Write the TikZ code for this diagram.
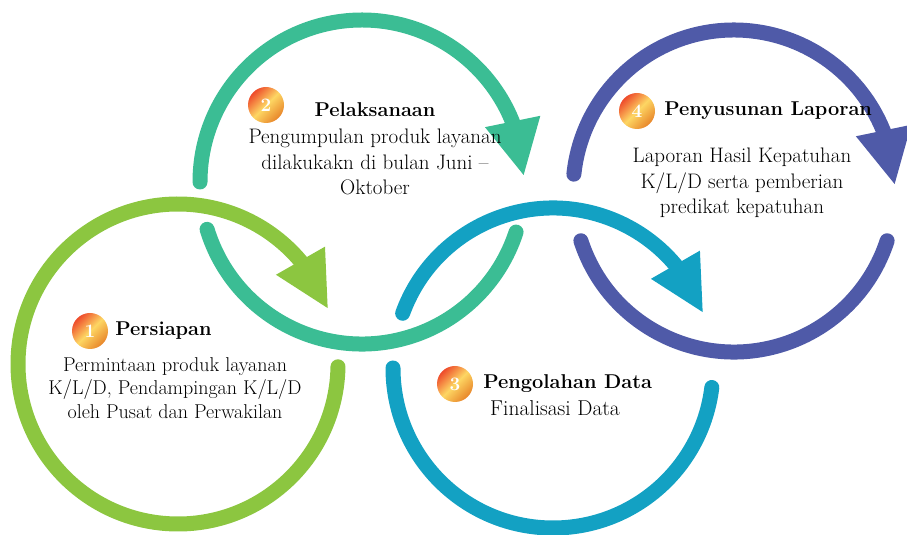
\documentclass[tikz,border=0pt]{standalone}
\usepackage{fontspec}
\usepackage{tikz}
\usetikzlibrary{arrows.meta, bending, positioning}
\definecolor{ringgreen}{HTML}{8CC640}
\definecolor{ringteal}{HTML}{3BBD94}
\definecolor{ringblue}{HTML}{13A1C3}
\definecolor{ringpurple}{HTML}{4F5AA8}
\definecolor{badgered}{HTML}{EE4B2B}
\definecolor{badgeyellow}{HTML}{FDD663}
\definecolor{badgeorange}{HTML}{E8862A}

\begin{document}
\begin{tikzpicture}[
    x=1pt, y=1pt,
    ring/.style={line width=15pt, line cap=round},
    ringarrow/.style={ring, -{Triangle[length=56pt, width=52pt]}},
    badge/.style={circle, minimum size=36pt, inner sep=0pt, top color=badgered, bottom color=badgeorange, middle color=badgeyellow, shading angle=45, text=white, font=\fontsize{19}{19}\selectfont\bfseries},
    steptitle/.style={font=\fontsize{20}{22}\selectfont\bfseries, inner sep=0pt},
    stepbody/.style={align=center, inner sep=0pt},
]
\useasboundingbox (0,0) rectangle (907,535);

% Ring centres
\coordinate (c1) at (178,171);
\coordinate (c2) at (362,353);
\coordinate (c3) at (553,167);
\coordinate (c4) at (734,344);

% Ring 1: Persiapan
\draw[ringarrow, ringgreen] (c1) ++(-1:160) arc[start angle=-1, end angle=-340, radius=160];

% Ring 2: Pelaksanaan
\draw[ringarrow, ringteal] (c2) ++(180:162) arc[start angle=180, end angle=2, radius=162];
\draw[ring, ringteal] (c2) ++(-163:162) arc[start angle=-163, end angle=-18, radius=162];

% Ring 3: Pengolahan Data
\draw[ringarrow, ringblue] (c3) ++(160:160) arc[start angle=160, end angle=20, radius=160];
\draw[ring, ringblue] (c3) ++(180:160) arc[start angle=180, end angle=353, radius=160];

% Ring 4: Penyusunan Laporan
\draw[ringarrow, ringpurple] (c4) ++(174:161) arc[start angle=174, end angle=2, radius=161];
\draw[ring, ringpurple] (c4) ++(-162:161) arc[start angle=-162, end angle=-18, radius=161];

% Badges
\node[badge] (b1) at (90,204) {1};
\node[badge] (b2) at (266,430) {2};
\node[badge] (b3) at (455,151) {3};
\node[badge] (b4) at (637,424) {4};

% Titles
\node[steptitle, right=7pt of b1] (t1) {Persiapan};
\node[steptitle] (t2) at (375,425) {Pelaksanaan};
\node[steptitle, right=10pt of b3] (t3) {Pengolahan Data};
\node[steptitle, right=9pt of b4] (t4) {Penyusunan Laporan};

% Descriptions
\node[stepbody, font=\fontsize{20}{23.3}\selectfont] (d1) at (175,147) {Permintaan produk layanan\\K/L/D, Pendampingan K/L/D\\oleh Pusat dan Perwakilan};
\node[stepbody, font=\fontsize{21}{25.5}\selectfont] (d2) at (375,373) {Pengumpulan produk layanan\\dilakukakn di bulan Juni --\\Oktober};
\node[stepbody, font=\fontsize{21.5}{25.5}\selectfont, anchor=west] (d3) at (490,127) {Finalisasi Data};
\node[stepbody, font=\fontsize{21}{25.5}\selectfont] (d4) at (742,352) {Laporan Hasil Kepatuhan\\K/L/D serta pemberian\\predikat kepatuhan};

\end{tikzpicture}
\end{document}
